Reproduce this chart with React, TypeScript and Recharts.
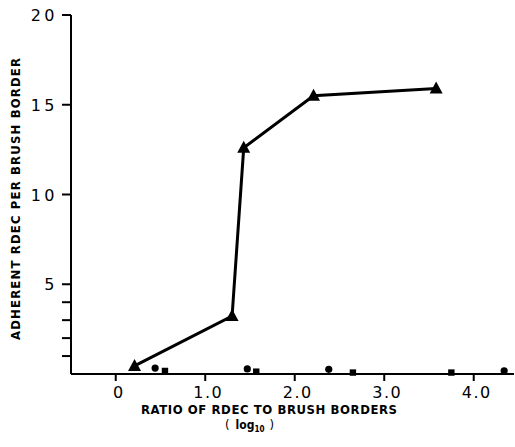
import React from "react";
import { ScatterChart, Scatter, XAxis, YAxis } from "recharts";

// log10 ratio of RDEC to brush borders vs adherent RDEC per brush border
const triX = [0.21, 1.3, 1.43, 2.21, 3.58];
const triY = [0.45, 3.23, 12.6, 15.5, 15.9];
const circX = [0.44, 1.47, 2.38, 4.34];
const circY = [0.33, 0.28, 0.26, 0.18];
const sqX = [0.55, 1.57, 2.65, 3.75];
const sqY = [0.17, 0.13, 0.08, 0.08];

const xTicks = [0, 1, 2, 3, 4];
const xTickLabels = ["0", "1.0", "2.0", "3.0", "4.0"];
const yTicks = [1, 2, 3, 4, 5, 10, 15, 20];
const yLabelled = [5, 10, 15, 20];

const zip = (xs: number[], ys: number[]) => xs.map((x, i) => ({ x, y: ys[i] }));
const triData = zip(triX, triY);
const circData = zip(circX, circY);
const sqData = zip(sqX, sqY);

const numFont = "'DejaVu Sans', sans-serif";
const titleFont = "'Liberation Sans Narrow', 'DejaVu Sans Condensed', 'Liberation Sans', sans-serif";

function Triangle(props: any) {
  const { cx, cy } = props;
  return (
    <polygon
      points={`${cx},${cy - 7} ${cx - 6.5},${cy + 5} ${cx + 6.5},${cy + 5}`}
      fill="#000"
    />
  );
}

function Dot(props: any) {
  return <circle cx={props.cx} cy={props.cy} r={3.6} fill="#000" />;
}

function Square(props: any) {
  return <rect x={props.cx - 3.2} y={props.cy - 3.2} width={6.4} height={6.4} fill="#000" />;
}

function YTick(props: any) {
  const { x, y, payload } = props;
  const v = payload.value;
  return (
    <g>
      <line x1={x - 9} x2={x} y1={y} y2={y} stroke="#000" strokeWidth={2} />
      {yLabelled.includes(v) && (
        <text
          x={x - 13}
          y={y}
          dy={6}
          textAnchor="end"
          fontFamily={numFont}
          fontSize={16}
          letterSpacing={3.5}
          fill="#000"
        >
          {v}
        </text>
      )}
    </g>
  );
}

function XTick(props: any) {
  const { x, y, payload } = props;
  const i = xTicks.indexOf(payload.value);
  return (
    <g>
      <line x1={x} x2={x} y1={y} y2={y + 7} stroke="#000" strokeWidth={2} />
      <text
        x={x + 3}
        y={y + 24}
        textAnchor="middle"
        fontFamily={numFont}
        fontSize={16}
        letterSpacing={1.5}
        fill="#000"
      >
        {xTickLabels[i]}
      </text>
    </g>
  );
}

function XTitle(props: any) {
  const { viewBox } = props;
  const y0 = viewBox.y;
  return (
    <g fill="#000" fontFamily={titleFont} fontWeight="bold">
      <text
        x={141}
        y={y0 + 40}
        fontSize={13}
        textLength={256}
        lengthAdjust="spacing"
      >
        RATIO OF RDEC TO BRUSH BORDERS
      </text>
      <text x={225} y={y0 + 55} fontSize={13}>
        <tspan fontWeight="normal">(</tspan>
        <tspan dx={6} fontSize={12}>log</tspan>
        <tspan fontSize={8} dy={3}>10</tspan>
        <tspan dx={5} dy={-3} fontWeight="normal">)</tspan>
      </text>
    </g>
  );
}

function YTitle(props: any) {
  const cx = 15;
  const cy = 199;
  return (
    <text
      x={cx}
      y={cy}
      transform={`rotate(-90 ${cx} ${cy})`}
      textAnchor="middle"
      dominantBaseline="central"
      fontFamily={titleFont}
      fontWeight="bold"
      fontSize={13}
      textLength={282}
      lengthAdjust="spacing"
      fill="#000"
    >
      ADHERENT RDEC PER BRUSH BORDER
    </text>
  );
}

export default function App() {
  return (
    <div style={{ position: "absolute", left: 0, top: 0, width: 515, height: 447, background: "#fff" }}>
      <ScatterChart width={515} height={447} margin={{ top: 15, right: 1, bottom: 0, left: 0 }}>
        <XAxis
          type="number"
          dataKey="x"
          domain={[-0.5, 4.45]}
          allowDataOverflow
          ticks={xTicks}
          tick={<XTick />}
          tickLine={false}
          tickSize={0}
          tickMargin={0}
          height={73}
          axisLine={{ stroke: "#000", strokeWidth: 2 }}
          label={<XTitle />}
        />
        <YAxis
          type="number"
          dataKey="y"
          domain={[0, 20]}
          ticks={yTicks}
          tick={<YTick />}
          tickLine={false}
          tickSize={0}
          tickMargin={0}
          width={71}
          interval={0}
          axisLine={{ stroke: "#000", strokeWidth: 2 }}
          label={<YTitle />}
        />
        <Scatter
          data={triData}
          line={{ stroke: "#000", strokeWidth: 3 }}
          shape={<Triangle />}
          isAnimationActive={false}
        />
        <Scatter data={circData} shape={<Dot />} isAnimationActive={false} />
        <Scatter data={sqData} shape={<Square />} isAnimationActive={false} />
      </ScatterChart>
    </div>
  );
}
